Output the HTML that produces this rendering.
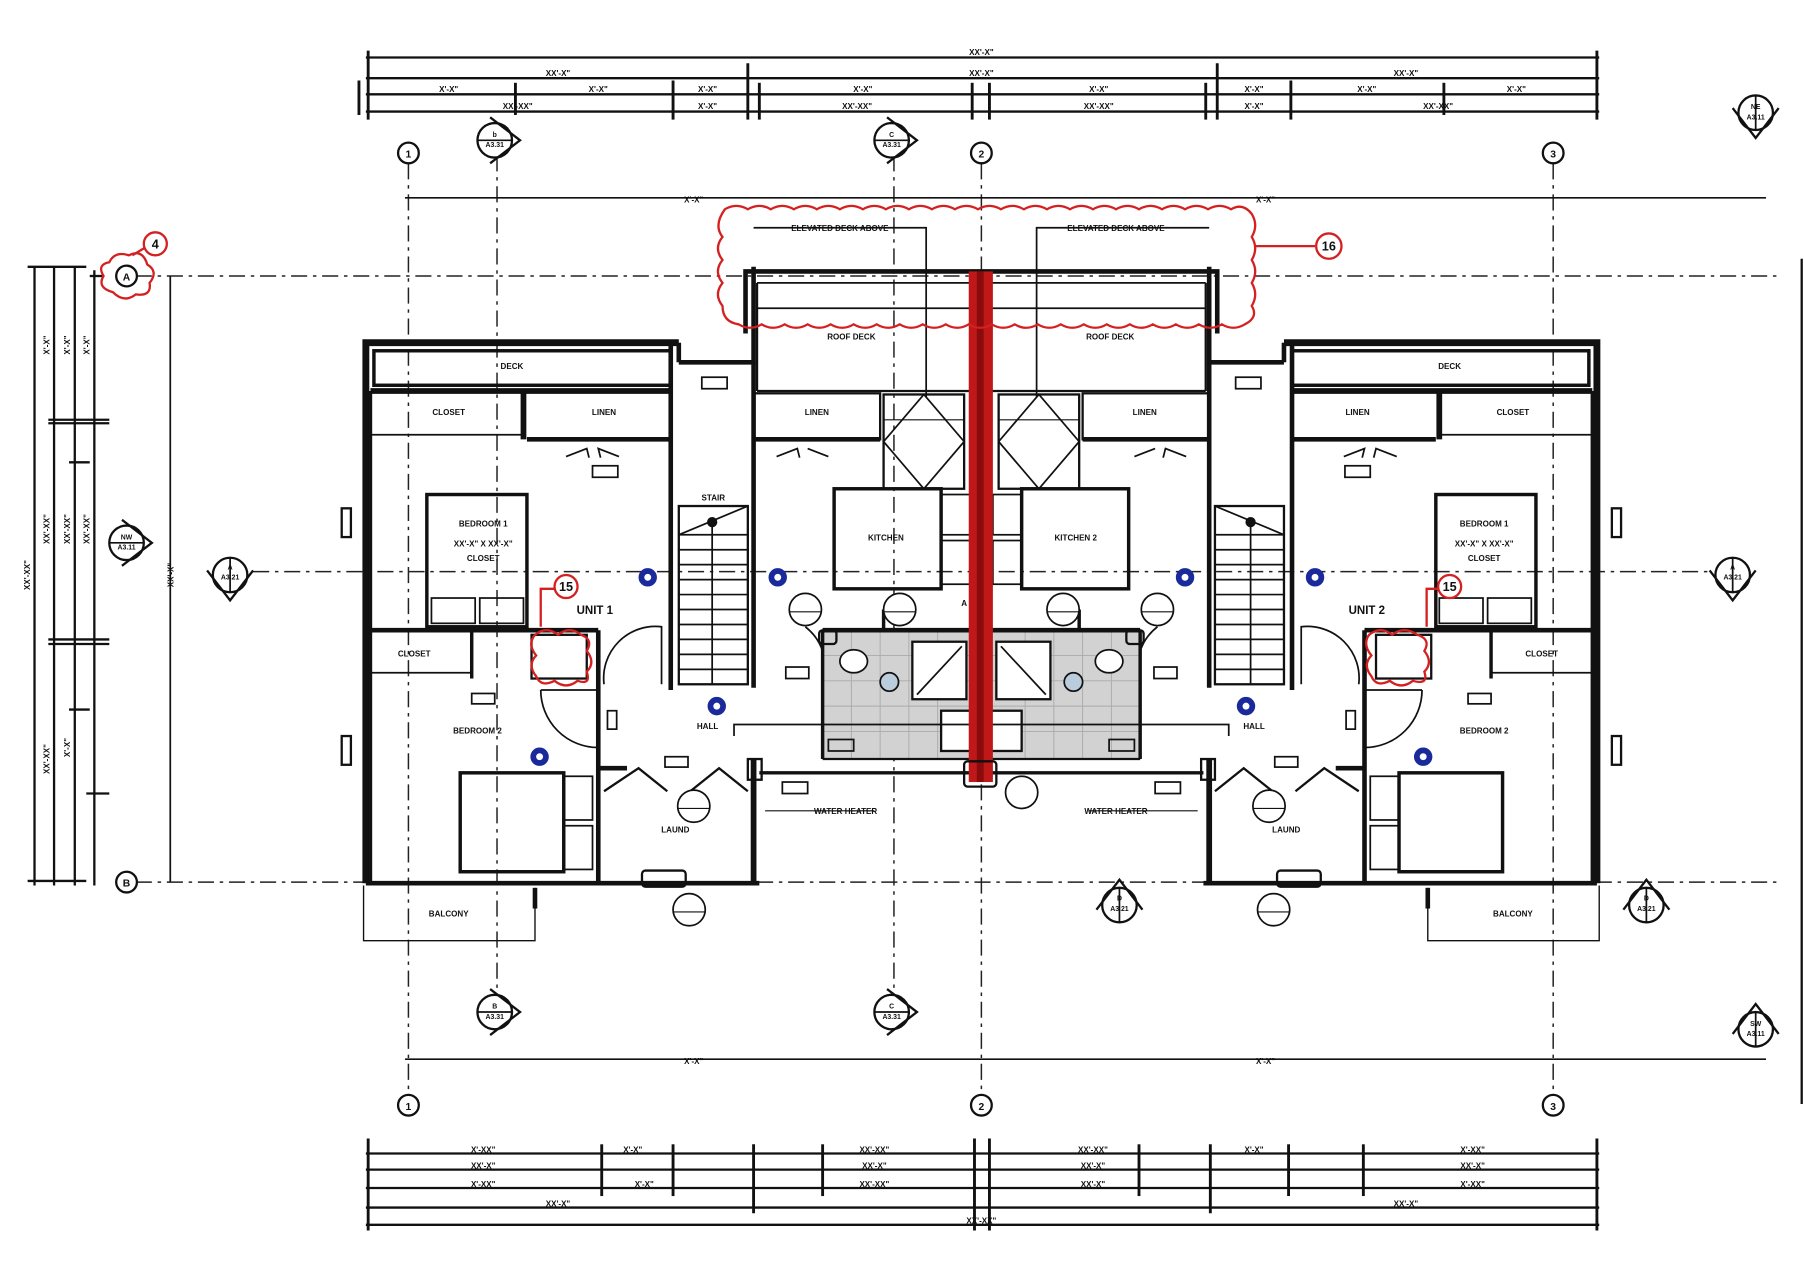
<!DOCTYPE html>
<html><head><meta charset="utf-8"><style>
html,body{margin:0;padding:0;background:#fff;}
svg{display:block;}
text{font-family:"Liberation Sans",sans-serif;font-weight:bold;fill:#111;}
</style></head><body>
<svg width="1804" height="1280" viewBox="0 0 1568 1113" preserveAspectRatio="none" xmlns="http://www.w3.org/2000/svg">
<rect width="1568" height="1113" fill="#fff"/>
<defs>
<g id="sec">
 <circle r="15" fill="#fff" stroke="#111" stroke-width="2"/>
 <line x1="-15" y1="0" x2="15" y2="0" stroke="#111" stroke-width="1.5"/>
 <path d="M-4,-20 L22,0 L-4,20" fill="none" stroke="#111" stroke-width="2"/>
</g>
<g id="bub"><circle r="9" fill="#fff" stroke="#111" stroke-width="2"/></g>
</defs>

<g stroke="#222" stroke-width="1.3" stroke-dasharray="14,5,3,5" fill="none">
 <line x1="355" y1="142" x2="355" y2="952"/>
 <line x1="853" y1="142" x2="853" y2="952"/>
 <line x1="1350" y1="142" x2="1350" y2="952"/>
 <line x1="118" y1="240" x2="1545" y2="240"/>
 <line x1="220" y1="497" x2="1488" y2="497"/>
 <line x1="118" y1="767" x2="1545" y2="767"/>
 <line x1="432" y1="135" x2="432" y2="870"/>
 <line x1="777" y1="135" x2="777" y2="870"/>
</g>
<g stroke="#111" stroke-width="1.5">
 <line x1="352" y1="172" x2="1535" y2="172"/>
 <line x1="352" y1="921" x2="1535" y2="921"/>
 <line x1="148" y1="240" x2="148" y2="767"/>
 <line x1="1566" y1="225" x2="1566" y2="960" stroke-width="2"/>
</g>

<g stroke="#111" stroke-width="2">
 <line x1="318" y1="50" x2="1390" y2="50"/>
 <line x1="318" y1="68" x2="1390" y2="68"/>
 <line x1="318" y1="82" x2="1390" y2="82"/>
 <line x1="318" y1="97" x2="1390" y2="97"/>
 <g stroke-width="2.5">
 <line x1="320" y1="44" x2="320" y2="104"/><line x1="1388" y1="44" x2="1388" y2="104"/>
 <line x1="650" y1="55" x2="650" y2="104"/><line x1="1058" y1="55" x2="1058" y2="104"/>
 <line x1="585" y1="70" x2="585" y2="104"/><line x1="1122" y1="70" x2="1122" y2="104"/>
 <line x1="448" y1="72" x2="448" y2="100"/><line x1="1255" y1="72" x2="1255" y2="100"/>
 <line x1="845" y1="72" x2="845" y2="104"/><line x1="860" y1="72" x2="860" y2="104"/>
 <line x1="312" y1="70" x2="312" y2="100"/><line x1="1048" y1="72" x2="1048" y2="104"/><line x1="660" y1="72" x2="660" y2="104"/>
 </g>
</g>
<g font-size="7" text-anchor="middle">
 <text x="853" y="48">XX'-X"</text>
 <text x="485" y="66">XX'-X"</text><text x="853" y="66">XX'-X"</text><text x="1222" y="66">XX'-X"</text>
 <text x="390" y="80">X'-X"</text><text x="520" y="80">X'-X"</text><text x="615" y="80">X'-X"</text><text x="750" y="80">X'-X"</text><text x="955" y="80">X'-X"</text><text x="1090" y="80">X'-X"</text><text x="1188" y="80">X'-X"</text><text x="1318" y="80">X'-X"</text>
 <text x="450" y="95">XX'-XX"</text><text x="615" y="95">X'-X"</text><text x="745" y="95">XX'-XX"</text><text x="955" y="95">XX'-XX"</text><text x="1090" y="95">X'-X"</text><text x="1250" y="95">XX'-XX"</text>
</g>

<g stroke="#111" stroke-width="2">
 <line x1="318" y1="1003" x2="1390" y2="1003"/>
 <line x1="318" y1="1017" x2="1390" y2="1017"/>
 <line x1="318" y1="1033" x2="1390" y2="1033"/>
 <line x1="318" y1="1050" x2="1390" y2="1050"/>
 <line x1="318" y1="1065" x2="1390" y2="1065"/>
 <g stroke-width="2.5">
 <line x1="320" y1="990" x2="320" y2="1070"/><line x1="1388" y1="990" x2="1388" y2="1070"/>
 <line x1="523" y1="995" x2="523" y2="1040"/><line x1="585" y1="995" x2="585" y2="1040"/><line x1="655" y1="995" x2="655" y2="1055"/><line x1="715" y1="995" x2="715" y2="1040"/>
 <line x1="847" y1="990" x2="847" y2="1070"/><line x1="860" y1="990" x2="860" y2="1070"/>
 <line x1="990" y1="995" x2="990" y2="1040"/><line x1="1052" y1="995" x2="1052" y2="1055"/><line x1="1120" y1="995" x2="1120" y2="1040"/><line x1="1185" y1="995" x2="1185" y2="1040"/>
 </g>
</g>
<g font-size="7" text-anchor="middle">
 <text x="420" y="1002">X'-XX"</text><text x="550" y="1002">X'-X"</text><text x="760" y="1002">XX'-XX"</text><text x="950" y="1002">XX'-XX"</text><text x="1090" y="1002">X'-X"</text><text x="1280" y="1002">X'-XX"</text>
 <text x="420" y="1016">XX'-X"</text><text x="760" y="1016">XX'-X"</text><text x="950" y="1016">XX'-X"</text><text x="1280" y="1016">XX'-X"</text>
 <text x="420" y="1032">X'-XX"</text><text x="560" y="1032">X'-X"</text><text x="760" y="1032">XX'-XX"</text><text x="950" y="1032">XX'-X"</text><text x="1280" y="1032">X'-XX"</text>
 <text x="485" y="1049">XX'-X"</text><text x="1222" y="1049">XX'-X"</text>
 <text x="853" y="1064">XX'-XX"</text>
</g>

<g stroke="#111" stroke-width="2">
 <line x1="30" y1="232" x2="30" y2="770"/>
 <line x1="47" y1="232" x2="47" y2="770"/>
 <line x1="65" y1="232" x2="65" y2="770"/>
 <line x1="82" y1="235" x2="82" y2="770"/>
 <line x1="24" y1="232" x2="75" y2="232"/><line x1="78" y1="240" x2="90" y2="240"/>
 <line x1="42" y1="365" x2="95" y2="365"/><line x1="42" y1="368" x2="95" y2="368"/>
 <line x1="60" y1="402" x2="78" y2="402"/>
 <line x1="42" y1="556" x2="95" y2="556"/><line x1="42" y1="560" x2="95" y2="560"/>
 <line x1="60" y1="617" x2="78" y2="617"/>
 <line x1="75" y1="690" x2="95" y2="690"/>
 <line x1="24" y1="766" x2="75" y2="766"/>
</g>
<g font-size="7">
 <text transform="translate(26,500) rotate(-90)" text-anchor="middle">XX'-XX"</text>
 <text transform="translate(43,300) rotate(-90)" text-anchor="middle">X'-X"</text>
 <text transform="translate(43,460) rotate(-90)" text-anchor="middle">XX'-XX"</text>
 <text transform="translate(43,660) rotate(-90)" text-anchor="middle">XX'-XX"</text>
 <text transform="translate(61,300) rotate(-90)" text-anchor="middle">X'-X"</text>
 <text transform="translate(61,460) rotate(-90)" text-anchor="middle">XX'-XX"</text>
 <text transform="translate(61,650) rotate(-90)" text-anchor="middle">X'-X"</text>
 <text transform="translate(78,300) rotate(-90)" text-anchor="middle">X'-X"</text>
 <text transform="translate(78,460) rotate(-90)" text-anchor="middle">XX'-XX"</text>
 <text transform="translate(151,500) rotate(-90)" text-anchor="middle">XX'-X"</text>
</g>

<g>
 <use href="#bub" x="355" y="133"/><use href="#bub" x="853" y="133"/><use href="#bub" x="1350" y="133"/>
 <use href="#bub" x="355" y="961"/><use href="#bub" x="853" y="961"/><use href="#bub" x="1350" y="961"/>
 <use href="#bub" x="110" y="240"/><use href="#bub" x="110" y="767"/>
</g>
<g font-size="9" text-anchor="middle">
 <text x="355" y="137">1</text><text x="853" y="137">2</text><text x="1350" y="137">3</text>
 <text x="355" y="965">1</text><text x="853" y="965">2</text><text x="1350" y="965">3</text>
 <text x="110" y="244">A</text><text x="110" y="771">B</text>
</g>

<g>
 <g transform="translate(430,122) rotate(0)"><use href="#sec"/></g>
 <g transform="translate(775,122)"><use href="#sec"/></g>
 <g transform="translate(430,880)"><use href="#sec"/></g>
 <g transform="translate(775,880)"><use href="#sec"/></g>
 <g transform="translate(110,472)"><use href="#sec"/></g>
 <g transform="translate(200,500) rotate(90)"><use href="#sec"/></g>
 <g transform="translate(1506,500) rotate(90)"><use href="#sec"/></g>
 <g transform="translate(973,787) rotate(-90)"><use href="#sec"/></g>
 <g transform="translate(1431,787) rotate(-90)"><use href="#sec"/></g>
 <g transform="translate(1526,98) rotate(90)"><use href="#sec"/></g>
 <g transform="translate(1526,895) rotate(-90)"><use href="#sec"/></g>
</g>
<g font-size="6" text-anchor="middle">
 <text x="430" y="119">b</text><text x="430" y="128">A3.31</text>
 <text x="775" y="119">C</text><text x="775" y="128">A3.31</text>
 <text x="430" y="877">B</text><text x="430" y="886">A3.31</text>
 <text x="775" y="877">C</text><text x="775" y="886">A3.31</text>
 <text x="110" y="469">NW</text><text x="110" y="478">A3.11</text>
 <text x="200" y="495">A</text><text x="200" y="504">A3.21</text>
 <text x="1506" y="495">A</text><text x="1506" y="504">A3.21</text>
 <text x="973" y="783">D</text><text x="973" y="792">A3.21</text>
 <text x="1431" y="783">D</text><text x="1431" y="792">A3.21</text>
 <text x="1526" y="95">NE</text><text x="1526" y="104">A3.11</text>
 <text x="1526" y="892">SW</text><text x="1526" y="901">A3.11</text>
</g>

<g id="unit" fill="none" stroke="#111">
 <path d="M318,768 L318,298 L590,298" stroke-width="6"/>
 <path d="M318,768 L660,768" stroke-width="4"/>
 <rect x="325" y="305" width="258" height="30" stroke-width="3"/>
 <line x1="322" y1="340" x2="583" y2="340" stroke-width="5"/>
 <line x1="455" y1="340" x2="455" y2="382" stroke-width="5"/>
 <line x1="322" y1="378" x2="455" y2="378" stroke-width="1.5"/>
 <line x1="458" y1="382" x2="583" y2="382" stroke-width="4"/>
 <line x1="583" y1="298" x2="583" y2="600" stroke-width="4"/>
 <line x1="590" y1="298" x2="590" y2="315" stroke-width="4"/>
 <path d="M590,315 L655,315 L655,232" stroke-width="4"/>
 <line x1="655" y1="315" x2="655" y2="598" stroke-width="4"/>
 <line x1="322" y1="340" x2="322" y2="768" stroke-width="3"/>
 <rect x="371" y="430" width="87" height="115" stroke-width="3"/>
 <rect x="375" y="520" width="38" height="22" stroke-width="1.5"/>
 <rect x="417" y="520" width="38" height="22" stroke-width="1.5"/>
 <line x1="322" y1="548" x2="520" y2="548" stroke-width="4"/>
 <line x1="322" y1="585" x2="410" y2="585" stroke-width="1.5"/>
 <line x1="410" y1="548" x2="410" y2="590" stroke-width="3"/>
 <line x1="520" y1="548" x2="520" y2="600" stroke-width="4"/>
 <rect x="462" y="552" width="48" height="38" stroke-width="2"/>
 <rect x="590" y="440" width="60" height="155" stroke-width="2"/>
 <g stroke-width="1.5">
  <line x1="590" y1="465" x2="650" y2="465"/><line x1="590" y1="478" x2="650" y2="478"/><line x1="590" y1="491" x2="650" y2="491"/><line x1="590" y1="504" x2="650" y2="504"/><line x1="590" y1="517" x2="650" y2="517"/><line x1="590" y1="530" x2="650" y2="530"/><line x1="590" y1="543" x2="650" y2="543"/><line x1="590" y1="556" x2="650" y2="556"/><line x1="590" y1="569" x2="650" y2="569"/><line x1="590" y1="582" x2="650" y2="582"/>
  <line x1="619" y1="455" x2="619" y2="595"/><line x1="590" y1="465" x2="650" y2="440"/>
 </g>
 <circle cx="619" cy="454" r="4" fill="#111"/>
 <path d="M525,595 A45,45 0 0 1 575,545 L575,595" stroke-width="1.5"/>
 <path d="M470,600 L520,600 M470,600 A50,50 0 0 0 520,650" stroke-width="1.5"/>
 <path d="M700,545 A45,45 0 0 1 715,595" stroke-width="1.5"/>
 <line x1="520" y1="600" x2="520" y2="768" stroke-width="4"/>
 <rect x="400" y="672" width="90" height="86" stroke-width="3"/>
 <rect x="490" y="675" width="25" height="38" stroke-width="1.5"/><rect x="490" y="718" width="25" height="38" stroke-width="1.5"/>
 <line x1="520" y1="668" x2="545" y2="668" stroke-width="4"/>
 <path d="M525,688 L555,668 L580,688 M600,688 L625,668 L650,688" stroke-width="2"/>
 <line x1="655" y1="660" x2="655" y2="768" stroke-width="5"/>
 <rect x="650" y="660" width="12" height="18" stroke-width="2"/>
 <rect x="558" y="757" width="38" height="14" rx="3" stroke-width="2"/>
 <path d="M316,770 L316,818 L465,818 L465,772" stroke-width="1.2"/>
 <line x1="465" y1="772" x2="465" y2="790" stroke-width="4"/>
 <rect x="297" y="442" width="8" height="25" stroke-width="2"/>
 <rect x="297" y="640" width="8" height="25" stroke-width="2"/>
 <rect x="515" y="405" width="22" height="10" stroke-width="1.5"/>
 <rect x="610" y="328" width="22" height="10" stroke-width="1.5"/>
 <rect x="410" y="603" width="20" height="9" stroke-width="1.5"/>
 <rect x="528" y="618" width="8" height="16" stroke-width="1.5"/>
 <rect x="578" y="658" width="20" height="9" stroke-width="1.5"/>
 <rect x="680" y="680" width="22" height="10" stroke-width="1.5"/>
 <rect x="683" y="580" width="20" height="10" stroke-width="1.5"/>
 <path d="M492,397 L510,390 L512,398 M538,397 L520,390 L522,398" stroke-width="1.5"/>
 <path d="M675,397 L693,390 L695,398 M720,397 L702,390" stroke-width="1.5"/>
 <rect x="655" y="342" width="110" height="40" stroke-width="2"/>
 <line x1="655" y1="382" x2="765" y2="382" stroke-width="4"/>
 <rect x="768" y="343" width="70" height="82" stroke-width="2"/>
 <path d="M803,343 L838,384 L803,425 L768,384 Z" stroke-width="1.5"/>
 <line x1="768" y1="365" x2="838" y2="365" stroke-width="1"/>
 <rect x="725" y="425" width="93" height="87" stroke-width="3"/>
 <rect x="818" y="430" width="25" height="35" stroke-width="1.5"/><rect x="818" y="470" width="25" height="38" stroke-width="1.5"/>
 <path d="M648,290 L648,236 L853,236" stroke-width="4"/>
 <line x1="658" y1="246" x2="853" y2="246" stroke-width="1.5"/>
 <line x1="658" y1="268" x2="853" y2="268" stroke-width="1.5"/>
 <line x1="658" y1="246" x2="658" y2="340" stroke-width="2"/>
 <line x1="658" y1="340" x2="853" y2="340" stroke-width="2"/>
 <path d="M655,198 L780,198 L805,198 L805,345" stroke-width="1.5"/>
 <rect x="715" y="548" width="138" height="112" fill="#d2d2d2" stroke="none"/>
 <g stroke="#aaa" stroke-width="0.8">
  <line x1="715" y1="570" x2="853" y2="570"/><line x1="715" y1="592" x2="853" y2="592"/><line x1="715" y1="614" x2="853" y2="614"/><line x1="715" y1="636" x2="853" y2="636"/>
  <line x1="740" y1="548" x2="740" y2="660"/><line x1="765" y1="548" x2="765" y2="660"/><line x1="790" y1="548" x2="790" y2="660"/><line x1="815" y1="548" x2="815" y2="660"/>
 </g>
 <line x1="715" y1="548" x2="853" y2="548" stroke-width="4"/>
 <line x1="715" y1="548" x2="715" y2="660" stroke-width="3"/>
 <rect x="793" y="558" width="47" height="50" fill="#fff" stroke-width="2"/>
 <line x1="797" y1="604" x2="836" y2="562" stroke-width="1.5"/>
 <ellipse cx="742" cy="575" rx="12" ry="10" fill="#fff" stroke-width="1.5"/>
 <circle cx="773" cy="593" r="8" fill="#bcd" stroke-width="1.5"/>
 <rect x="818" y="618" width="35" height="35" fill="#fff" stroke-width="2"/>
 <path d="M638,640 L638,630 L853,630" stroke-width="1.5"/>
 <line x1="715" y1="660" x2="853" y2="660" stroke-width="2"/>
 <line x1="660" y1="672" x2="853" y2="672" stroke-width="3"/>
 <rect x="712" y="548" width="15" height="12" rx="3" stroke-width="2"/>
 <line x1="768" y1="530" x2="768" y2="548" stroke-width="3"/>
 <rect x="720" y="643" width="22" height="10" stroke-width="1.5"/>
 <path d="M665,705 L760,705" stroke-width="1"/>
 <circle cx="700" cy="530" r="14" stroke-width="1.5" fill="#fff"/><line x1="686" y1="532" x2="714" y2="532" stroke-width="1"/>
 <circle cx="782" cy="530" r="14" stroke-width="1.5" fill="#fff"/><line x1="768" y1="532" x2="796" y2="532" stroke-width="1"/>
 <circle cx="603" cy="701" r="14" stroke-width="1.5" fill="#fff"/><line x1="589" y1="703" x2="617" y2="703" stroke-width="1"/>
 <circle cx="599" cy="791" r="14" stroke-width="1.5" fill="#fff"/><line x1="585" y1="793" x2="613" y2="793" stroke-width="1"/>
 <g fill="#1a2a9a" stroke="#1a2a9a" stroke-width="1">
 <circle cx="563" cy="502" r="7.5"/>
 <circle cx="676" cy="502" r="7.5"/>
 <circle cx="623" cy="614" r="7.5"/>
 <circle cx="469" cy="658" r="7.5"/>
 </g>
 <g fill="#fff" stroke="none">
 <circle cx="563" cy="502" r="3"/><circle cx="676" cy="502" r="3"/><circle cx="623" cy="614" r="3"/><circle cx="469" cy="658" r="3"/>
 </g>
</g>
<use href="#unit" transform="translate(1706,0) scale(-1,1)"/>

<rect x="842" y="236" width="21" height="444" fill="#c01818"/>
<rect x="849" y="236" width="6" height="444" fill="#8a0b0b"/>
<rect x="838" y="662" width="28" height="22" rx="3" fill="none" stroke="#111" stroke-width="2"/>
<circle cx="888" cy="689" r="14" fill="#fff" stroke="#111" stroke-width="1.5"/>

<g fill="none" stroke="#d42020" stroke-width="2">
 <path d="M630,182 Q640,176 650,182 Q660,176 670,182 Q680,176 690,182 Q700,176 710,182 Q720,176 730,182 Q740,176 750,182 Q760,176 770,182 Q780,176 790,182 Q800,176 810,182 Q820,176 830,182 Q840,176 850,182 Q860,176 870,182 Q880,176 890,182 Q900,176 910,182 Q920,176 930,182 Q940,176 950,182 Q960,176 970,182 Q980,176 990,182 Q1000,176 1010,182 Q1020,176 1030,182 Q1040,176 1050,182 Q1060,176 1070,182 Q1080,176 1088,186 Q1094,196 1088,206 Q1094,216 1088,226 Q1094,236 1088,246 Q1094,256 1088,266 Q1094,276 1082,282 Q1072,288 1062,282 Q1052,288 1042,282 Q1032,288 1022,282 Q1012,288 1002,282 Q992,288 982,282 Q972,288 962,282 Q952,288 942,282 Q932,288 922,282 Q912,288 902,282 Q892,288 882,282 Q872,288 862,282 Q852,288 842,282 Q832,288 822,282 Q812,288 802,282 Q792,288 782,282 Q772,288 762,282 Q752,288 742,282 Q732,288 722,282 Q712,288 702,282 Q692,288 682,282 Q672,288 662,282 Q652,288 642,282 Q628,280 628,266 Q620,256 628,246 Q620,236 628,226 Q620,216 628,206 Q620,196 630,182 Z"/>
 <line x1="1090" y1="214" x2="1143" y2="214"/>
 <circle cx="1155" cy="214" r="11"/>
 <path d="M95,228 Q100,218 112,222 Q124,216 128,230 Q138,236 130,246 Q132,258 118,256 Q108,264 98,254 Q84,250 90,240 Q84,230 95,228 Z"/>
 <circle cx="135" cy="212" r="10"/><line x1="125" y1="216" x2="115" y2="222"/>
 <path d="M465,552 Q475,544 485,552 Q495,544 505,552 Q516,556 510,566 Q518,576 510,584 Q514,596 502,592 Q492,600 482,592 Q470,598 466,588 Q458,578 466,570 Q458,560 465,552 Z"/>
 <circle cx="492" cy="510" r="10"/><path d="M482,512 L470,512 L470,545"/>
 <path d="M1190,552 Q1200,544 1210,552 Q1220,544 1232,552 Q1244,556 1238,566 Q1246,576 1238,584 Q1242,596 1228,592 Q1218,600 1208,592 Q1196,598 1192,588 Q1184,578 1192,570 Q1184,560 1190,552 Z"/>
 <circle cx="1260" cy="510" r="10"/><path d="M1250,512 L1240,512 L1240,545"/>
</g>
<g font-size="11" text-anchor="middle" style="font-weight:normal">
 <text x="1155" y="218" fill="#d42020">16</text>
 <text x="135" y="216" fill="#d42020">4</text>
 <text x="492" y="514" fill="#d42020">15</text>
 <text x="1260" y="514" fill="#d42020">15</text>
</g>

<g font-size="7" text-anchor="middle">
 <text x="445" y="321">DECK</text><text x="1260" y="321">DECK</text>
 <text x="390" y="361">CLOSET</text><text x="525" y="361">LINEN</text>
 <text x="1180" y="361">LINEN</text><text x="1315" y="361">CLOSET</text>
 <text x="710" y="361">LINEN</text><text x="995" y="361">LINEN</text>
 <text x="420" y="458">BEDROOM 1</text><text x="420" y="475">XX'-X" X XX'-X"</text><text x="420" y="488">CLOSET</text>
 <text x="1290" y="458">BEDROOM 1</text><text x="1290" y="475">XX'-X" X XX'-X"</text><text x="1290" y="488">CLOSET</text>
 <text x="415" y="638">BEDROOM 2</text><text x="1290" y="638">BEDROOM 2</text>
 <text x="615" y="634">HALL</text><text x="1090" y="634">HALL</text>
 <text x="620" y="435">STAIR</text>
 <text x="587" y="724">LAUND</text><text x="1118" y="724">LAUND</text>
 <text x="770" y="470">KITCHEN</text><text x="935" y="470">KITCHEN 2</text>
 <text x="740" y="295">ROOF DECK</text><text x="965" y="295">ROOF DECK</text>
 <text x="730" y="201">ELEVATED DECK ABOVE</text><text x="970" y="201">ELEVATED DECK ABOVE</text>
 <text x="735" y="708">WATER HEATER</text><text x="970" y="708">WATER HEATER</text>
 <text x="390" y="797">BALCONY</text><text x="1315" y="797">BALCONY</text>
 <text x="360" y="571">CLOSET</text><text x="1340" y="571">CLOSET</text>
 <text x="838" y="527">A</text>
 <text x="603" y="176">X'-X"</text><text x="1100" y="176">X'-X"</text>
 <text x="603" y="925">X'-X"</text><text x="1100" y="925">X'-X"</text>
</g>
<g font-size="10" text-anchor="middle"><text x="517" y="534">UNIT 1</text><text x="1188" y="534">UNIT 2</text></g>
</svg>
</body></html>
